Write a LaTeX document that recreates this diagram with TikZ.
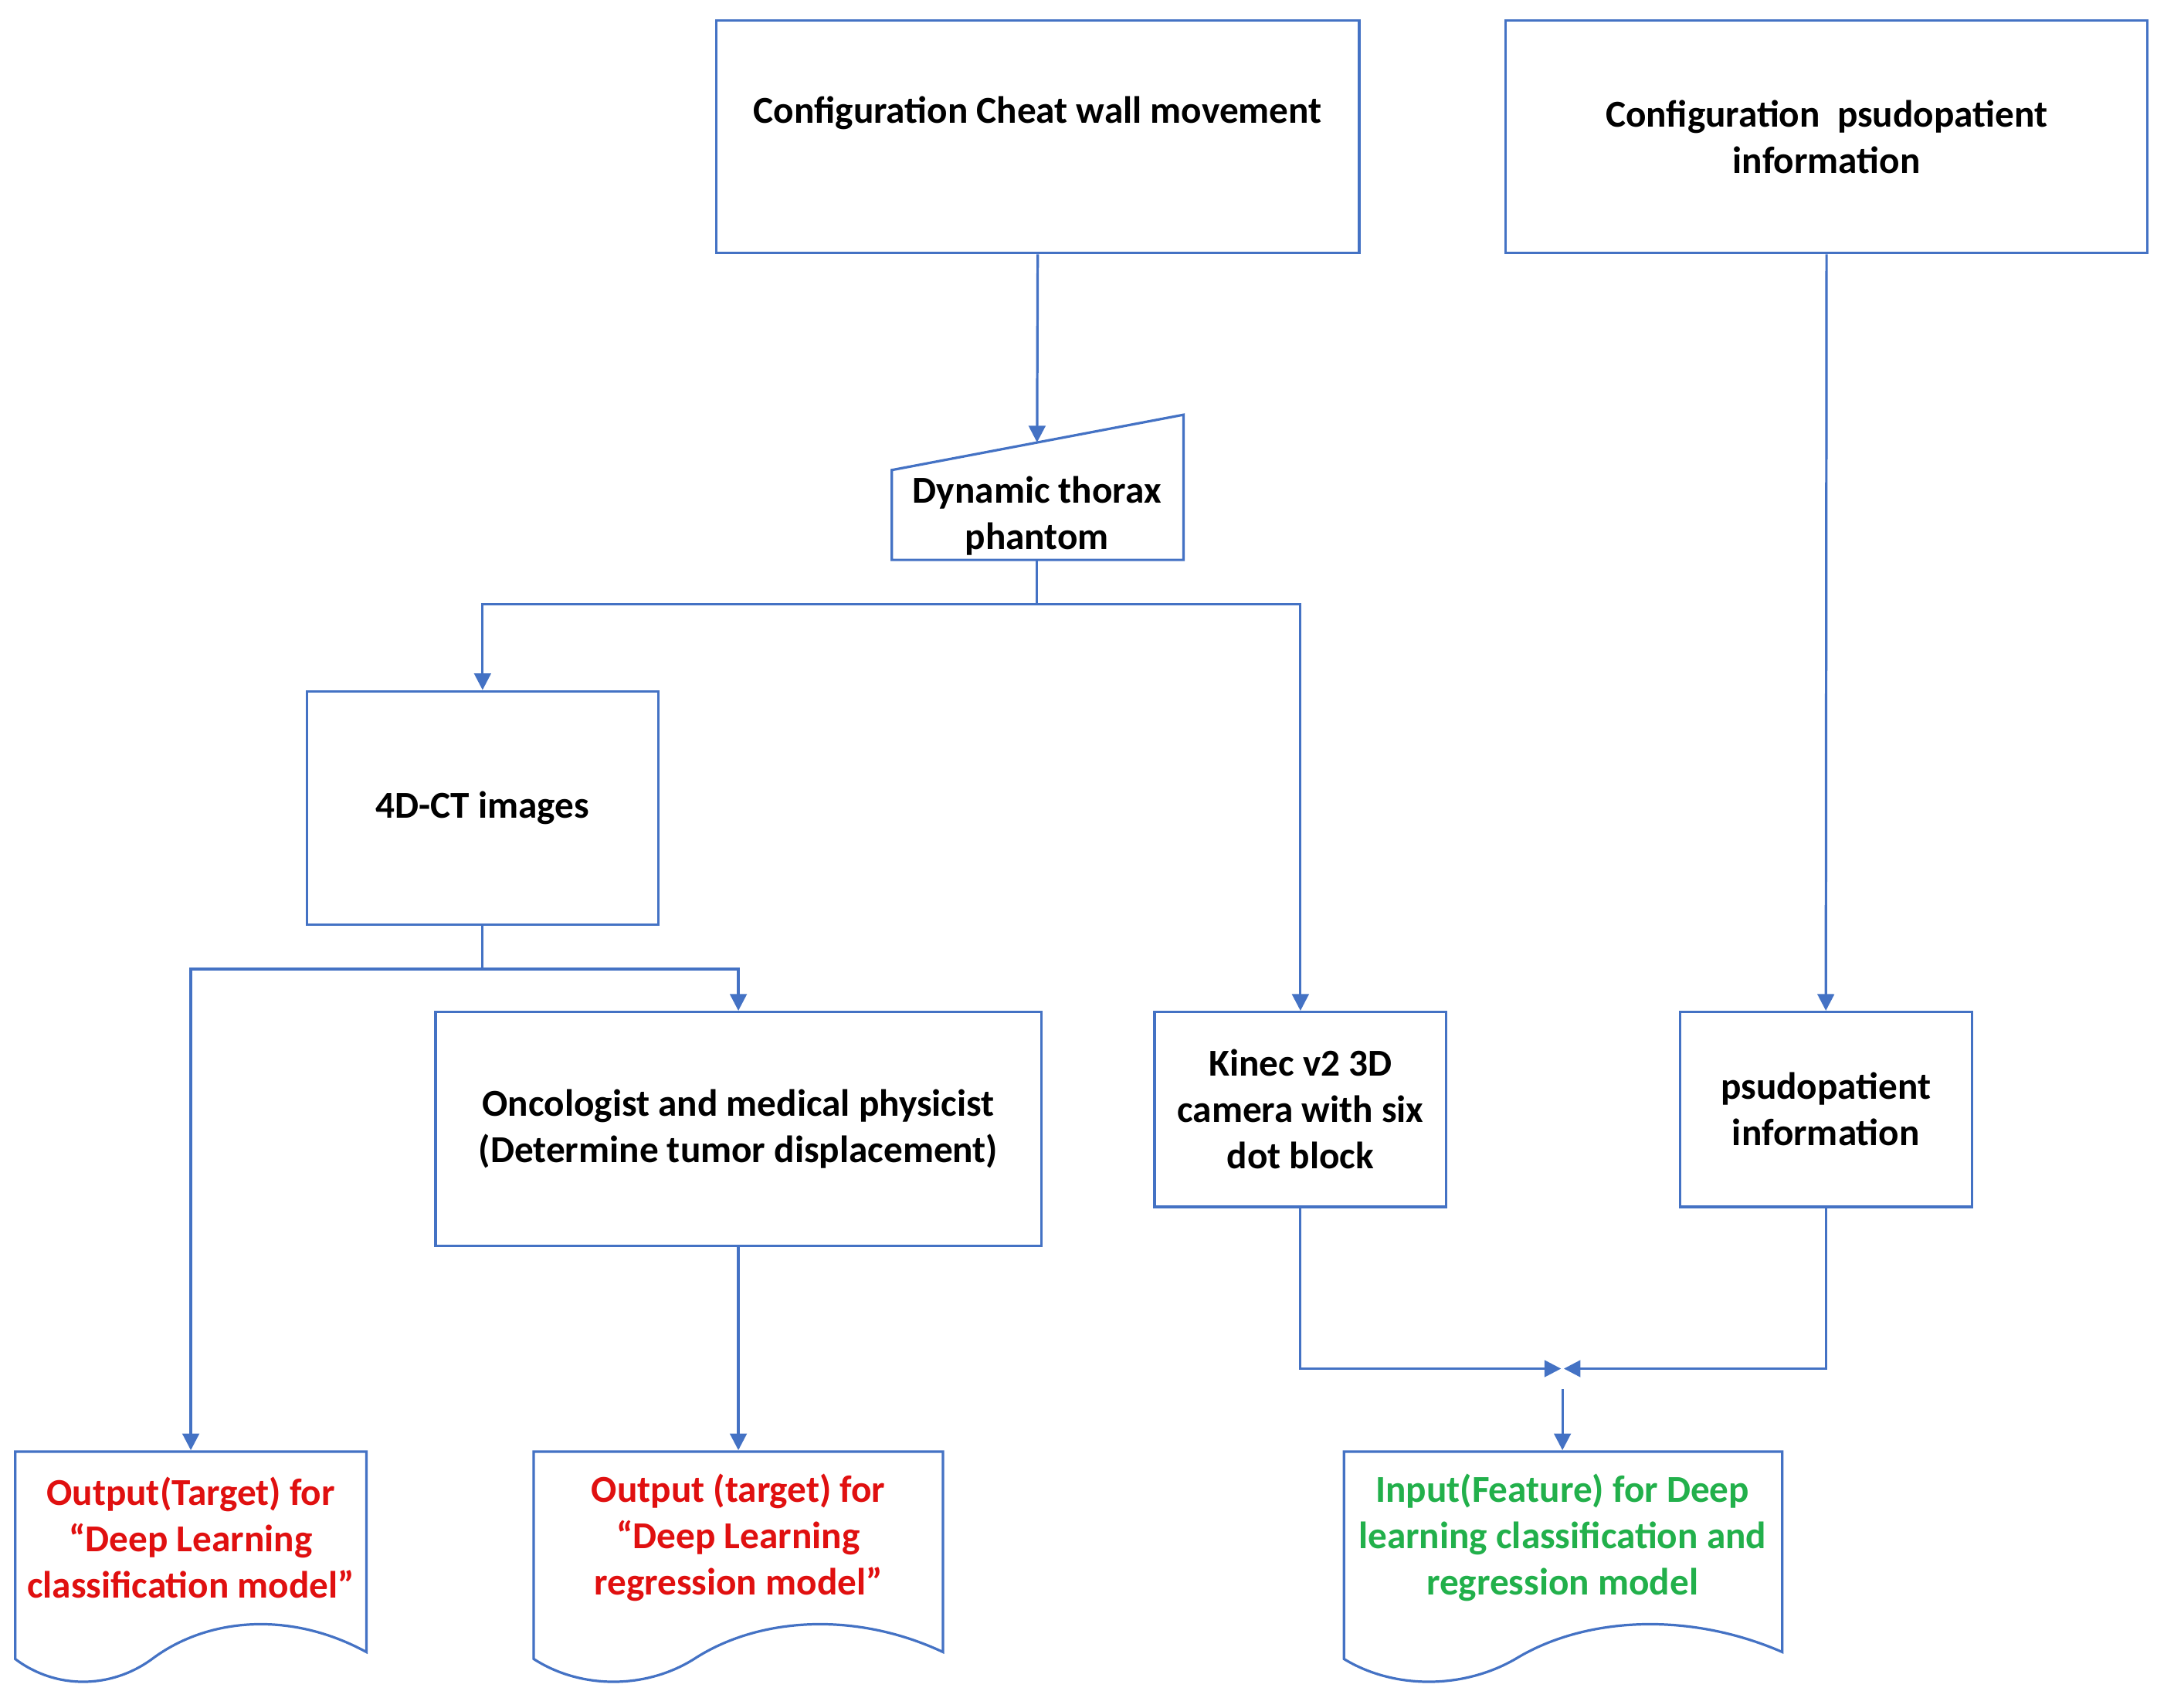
\documentclass[tikz,border=0pt]{standalone}
\usepackage{fontspec}
\setmainfont{Carlito}
\usetikzlibrary{arrows.meta}
\definecolor{ln}{HTML}{4472C4}
\definecolor{rd}{HTML}{E01010}
\definecolor{gr}{HTML}{22B04B}
\begin{document}
\begin{tikzpicture}[x=1pt,y=-1pt,
  box/.style={draw=ln,line width=1.8pt,align=center,inner sep=0pt,font=\fontsize{27.5}{33.5}\selectfont\bfseries},
  txt/.style={align=center,inner sep=0pt,font=\fontsize{27.5}{33.5}\selectfont\bfseries},
  arr/.style={draw=ln,line width=1.8pt,-{Triangle[width=12pt,length=12pt]}},
  doc/.style={draw=ln,line width=1.8pt}]
\useasboundingbox (0,0) rectangle (1560,1235);
% top boxes
\node[box,minimum width=465pt,minimum height=168pt] (A) at (750.5,99) {};
\node[txt] at (750.5,82) {Configuration Cheat wall movement};
\node[box,minimum width=464pt,minimum height=168pt] (B) at (1321,99) {};
\node[txt] at (1321,99) {Configuration\ \ psudopatient\\information};
% trapezoid
\draw[doc] (645,340) -- (856,300) -- (856,405) -- (645,405) -- cycle;
\coordinate (Ttop) at (750,320);
\coordinate (Tbot) at (750,405);
\node[txt] (T) at (750,373) {Dynamic thorax\\phantom};
% 4DCT
\node[box,minimum width=254pt,minimum height=169pt] (C) at (349,584.5) {4D-CT images};
% oncologist
\node[box,minimum width=438pt,minimum height=169pt] (O) at (534,816.5) {Oncologist and medical physicist\\(Determine tumor displacement)};
% kinect
\node[box,minimum width=211pt,minimum height=141pt] (K) at (940.5,802.5) {Kinec v2 3D\\camera with six\\dot block};
% psudo
\node[box,minimum width=211pt,minimum height=141pt] (P) at (1320.5,802.5) {psudopatient\\information};
% documents
\draw[doc] (11,1050) -- (265,1050) -- (265,1195) .. controls (210,1165) and (150,1170) .. (110,1200) .. controls (80,1222) and (40,1222) .. (11,1200) -- cycle;
\node[txt,text=rd] (D1) at (138,1112) {Output(Target) for\\“Deep Learning\\classification model”};
\draw[doc] (386,1050) -- (682,1050) -- (682,1195) .. controls (618,1165) and (548,1170) .. (502,1200) .. controls (467,1222) and (420,1222) .. (386,1200) -- cycle;
\node[txt,text=rd] (D2) at (534,1112) {Output (target) for\\“Deep Learning\\regression model”};
\draw[doc] (972,1050) -- (1289,1050) -- (1289,1195) .. controls (1220,1165) and (1145,1170) .. (1096,1200) .. controls (1058,1222) and (1008,1222) .. (972,1200) -- cycle;
\node[txt,text=gr] (D3) at (1130,1112) {Input(Feature) for Deep\\learning classification and\\regression model};
\coordinate (D1t) at (138,1049);
\coordinate (D2t) at (534,1049);
\coordinate (D3t) at (1130,1049);
% connectors
\draw[arr] (A.south) -- (Ttop);
\draw[arr] (B.south) -- (P.north);
\draw[arr] (Tbot) -- (750,437) -| (C.north);
\draw[arr] (Tbot) -- (750,437) -| (K.north);
\draw[arr] (C.south) -- (349,701) -| (D1t);
\draw[arr] (C.south) -- (349,701) -| (O.north);
\draw[arr] (O.south) -- (D2t);
\coordinate (M1) at (1129,990);
\coordinate (M2) at (1131,990);
\draw[arr] (K.south) |- (M1);
\draw[arr] (P.south) |- (M2);
\coordinate (M3) at (1130,1005);
\draw[arr] (M3) -- (D3t);
\end{tikzpicture}
\end{document}
